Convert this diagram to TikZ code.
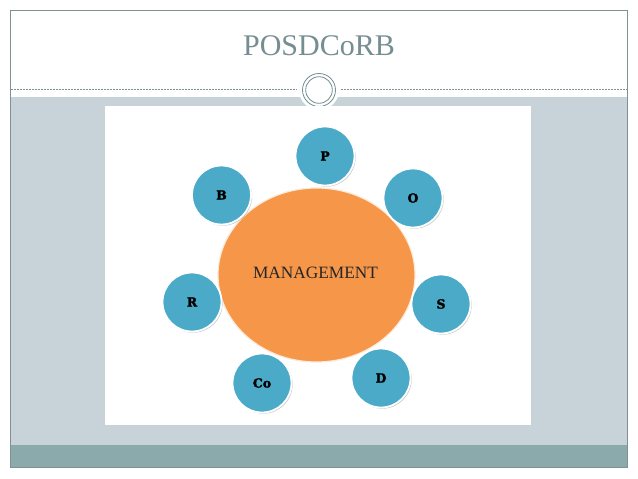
\documentclass[tikz,border=0pt]{standalone}
\usepackage{fontspec}
\setmainfont{Liberation Serif}
\newfontfamily\lettfont[BoldFeatures={FakeBold=2}]{DejaVu Serif}
\usetikzlibrary{shadows,shapes.geometric}
\definecolor{bggrey}{RGB}{199,210,217}
\definecolor{bandteal}{RGB}{138,170,171}
\definecolor{framegrey}{RGB}{128,145,147}
\definecolor{titlegrey}{RGB}{118,142,145}
\definecolor{ballblue}{RGB}{75,170,200}
\definecolor{mgmtorange}{RGB}{246,150,72}
\tikzset{
  ball/.style={circle, fill=ballblue, draw=white, line width=1.8pt, minimum size=59pt, inner sep=0pt,
    drop shadow={shadow xshift=1.2pt, shadow yshift=-1.2pt, opacity=0.35, fill=black!60},
    font=\lettfont\bfseries\fontsize{12.5}{12.5}\selectfont, text=black},
  core/.style={ellipse, fill=mgmtorange, draw=white!80!mgmtorange, line width=1.2pt,
    minimum width=197pt, minimum height=174pt, inner sep=0pt},
}
\begin{document}
\begin{tikzpicture}[x=1pt,y=-1pt]
\useasboundingbox (0,0) rectangle (638,479);
\fill[white] (0,0) rectangle (638,479);
% slide regions
\fill[bggrey] (10,97) rectangle (627,445);
\fill[bandteal] (10,445) rectangle (627,467);
\draw[framegrey, line width=0.7pt] (10,10) rectangle (627,467);
% title
\node[anchor=base, text=titlegrey, font=\fontsize{30}{30}\selectfont] (title) at (319,55.5) {POSDCoRB};
% divider with ornament
\coordinate (dl0) at (10.5,89.5);
\coordinate (dl1) at (297,89.5);
\coordinate (dr0) at (341,89.5);
\coordinate (dr1) at (626.5,89.5);
\draw[framegrey, dash pattern=on 2pt off 1pt, line width=0.6pt] (dl0) -- (dl1);
\draw[framegrey, dash pattern=on 2pt off 1pt, line width=0.6pt] (dr0) -- (dr1);
\fill[white] (319,90) circle (20);
\node[circle, draw=titlegrey, line width=0.8pt, minimum size=33pt, inner sep=0pt] (orn) at (319,90) {};
\node[circle, draw=titlegrey, line width=0.8pt, minimum size=26.6pt, inner sep=0pt] (orni) at (319,90) {};
% picture area
\fill[white] (105,106) rectangle (531,425);
% central management
\node[core] (m) at (316.5,275) {};
\node[anchor=base, text=black!85, font=\fontsize{17.3}{18}\selectfont] (mt) at (315.5,278) {MANAGEMENT};
% satellites
\node[ball] (P) at (325,156) {P};
\node[ball] (O) at (413,198) {O};
\node[ball] (S) at (441,304) {S};
\node[ball] (D) at (381,378) {D};
\node[ball] (Co) at (262,383) {Co};
\node[ball] (R) at (192,302) {R};
\node[ball] (B) at (221.5,195) {B};
\end{tikzpicture}
\end{document}
